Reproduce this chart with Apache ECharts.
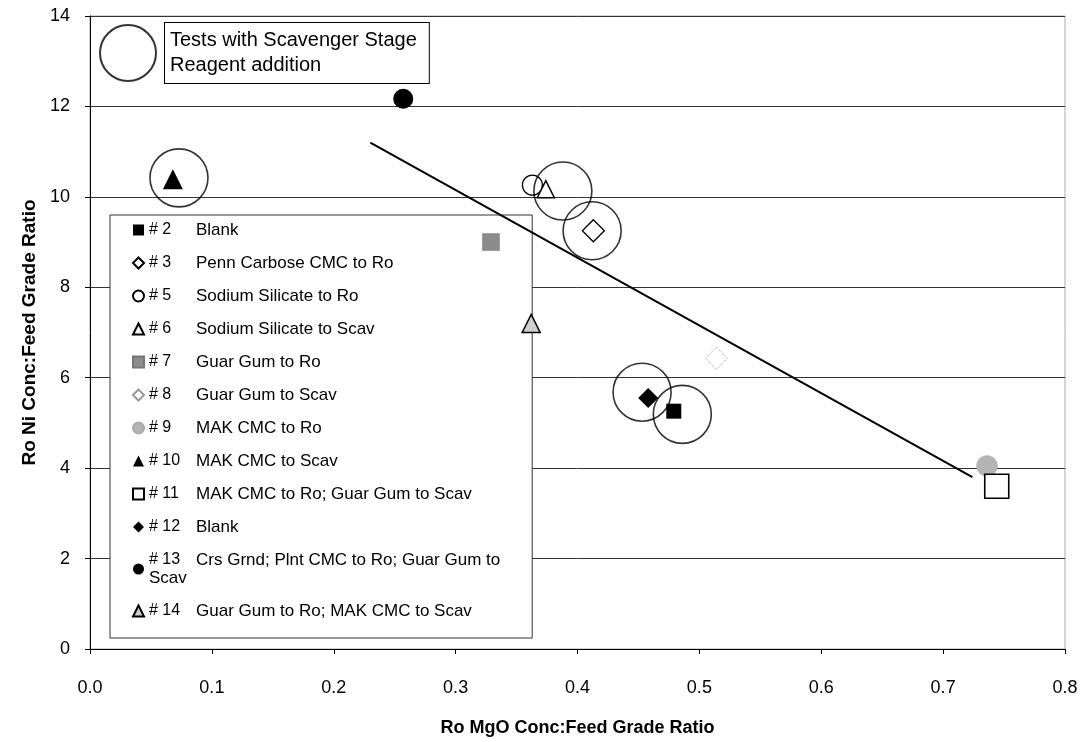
<!DOCTYPE html>
<html><head><meta charset="utf-8">
<script src="https://cdn.jsdelivr.net/npm/echarts@6/dist/echarts.min.js"></script>
<style>html,body{margin:0;padding:0;background:#fff}#c{width:1088px;height:742px}</style>
</head><body><div id="c"></div>
<script>
// ---- data ----
const testIds = ['# 2','# 3','# 5','# 6','# 7','# 8','# 9','# 10','# 11','# 12','# 13','# 14'];
const testLabels = ['Blank','Penn Carbose CMC to Ro','Sodium Silicate to Ro','Sodium Silicate to Scav','Guar Gum to Ro','Guar Gum to Scav','MAK CMC to Ro','MAK CMC to Scav','MAK CMC to Ro; Guar Gum to Scav','Blank','Crs Grnd; Plnt CMC to Ro; Guar Gum to Scav','Guar Gum to Ro; MAK CMC to Scav'];
const mgoRatio = [0.479,0.413,0.363,0.374,0.329,0.514,0.736,0.068,0.744,0.458,0.257,0.362];
const niRatio  = [5.26,9.25,10.26,10.17,9.00,6.43,4.05,10.39,3.60,5.55,12.17,7.20];
const scavMgo = [0.073,0.388,0.412,0.453,0.486];
const scavNi  = [10.42,10.13,9.25,5.68,5.19];
const trendMgo = [0.230,0.724];
const trendNi  = [11.20,3.80];
const scavLabel = 'Tests with Scavenger Stage Reagent addition';
const xTitle = 'Ro MgO Conc:Feed Grade Ratio';
const yTitle = 'Ro Ni Conc:Feed Grade Ratio';

// ---- styles ----
const markStyles = [
  {symbol:'rect', size:15, color:'#000', border:'#000', bw:0},
  {symbol:'diamond', size:22, color:'#fff', border:'#000', bw:1.3},
  {symbol:'circle', size:20, color:'#fff', border:'#000', bw:1.3},
  {symbol:'triangle', size:17, color:'#fff', border:'#000', bw:1.5},
  {symbol:'rect', size:17, color:'#8c8c8c', border:'#777', bw:0.5},
  {symbol:'diamond', size:22, color:'#fff', border:'#999', bw:1, type:'dotted'},
  {symbol:'circle', size:21, color:'#b4b4b4', border:'#aaa', bw:0.5},
  {symbol:'triangle', size:20, color:'#000', border:'#000', bw:0},
  {symbol:'rect', size:24, color:'#fff', border:'#000', bw:1.6},
  {symbol:'diamond', size:20, color:'#000', border:'#000', bw:0},
  {symbol:'circle', size:20, color:'#000', border:'#000', bw:0},
  {symbol:'triangle', size:18, color:'#cfcfcf', border:'#000', bw:1.5}
];
const seriesNames = testIds.map((id,i)=>id+'|'+testLabels[i]);
const FONT = '"Liberation Sans", Arial, sans-serif';

const series = [];
series.push({
  type:'line', name:'trend', data: trendMgo.map((x,i)=>[x,trendNi[i]]),
  showSymbol:false, symbol:'none', lineStyle:{color:'#000',width:2}, z:2, silent:true
});
seriesNames.forEach((n,i)=>{
  const s = markStyles[i];
  series.push({
    type:'scatter', name:n, data:[[mgoRatio[i], niRatio[i]]],
    symbol:s.symbol, symbolSize:s.size, z:3,
    itemStyle:{color:s.color, borderColor:s.border, borderWidth:s.bw, borderType:s.type||'solid', opacity:1}
  });
});
series.push({
  type:'scatter', name:scavLabel, data: scavMgo.map((x,i)=>[x,scavNi[i]]),
  symbol:'circle', symbolSize:58, z:4,
  itemStyle:{color:'rgba(0,0,0,0)', borderColor:'#000', borderWidth:1.6}
});

const chart = echarts.init(document.getElementById('c'));
chart.setOption({
  backgroundColor:'#fff',
  animation:false,
  textStyle:{fontFamily:FONT},
  grid:{left:90, right:23, top:16, bottom:90, show:true, borderColor:'#aaa', borderWidth:1},
  xAxis:{
    type:'value', min:0, max:0.8, interval:0.1, z:0,
    name:xTitle, nameLocation:'middle', nameGap:70,
    nameTextStyle:{fontSize:18, fontWeight:'bold', color:'#000', fontFamily:FONT},
    axisLine:{show:true, lineStyle:{color:'#000', width:1}},
    axisTick:{show:true, length:5, lineStyle:{color:'#000'}},
    axisLabel:{margin:30, fontSize:18, color:'#000', fontFamily:FONT, formatter:v=>v.toFixed(1)},
    splitLine:{show:false}
  },
  yAxis:{
    type:'value', min:0, max:14, interval:2, z:0,
    name:yTitle, nameLocation:'middle', nameGap:50, nameRotate:90,
    nameTextStyle:{fontSize:19, fontWeight:'bold', color:'#000', fontFamily:FONT},
    axisLine:{show:true, lineStyle:{color:'#000', width:1}},
    axisTick:{show:true, length:5, lineStyle:{color:'#000'}},
    axisLabel:{margin:20, fontSize:18, color:'#000', fontFamily:FONT},
    splitLine:{show:true, lineStyle:{color:'#333', width:1}}
  },
  legend:[{
    data: seriesNames, orient:'vertical', left:110, top:215, z:1,
    selectedMode:false, itemWidth:11, itemHeight:11, itemGap:15,
    padding:[6,32,18,22], borderColor:'#333', borderWidth:1, backgroundColor:'#fff',
    formatter: name=>{
      const i = seriesNames.indexOf(name);
      const lab = testLabels[i];
      if (i===10) return '{a|'+testIds[i]+'}{b|Crs Grnd; Plnt CMC to Ro; Guar Gum to}\n{b|Scav}';
      return '{a|'+testIds[i]+'}{b|'+lab+'}';
    },
    textStyle:{fontSize:17, color:'#000', fontFamily:FONT, lineHeight:18,
      rich:{a:{width:47, fontSize:16, lineHeight:18, fontFamily:FONT, color:'#000'},
            b:{fontSize:17, lineHeight:18, fontFamily:FONT, color:'#000'}}}
  },{
    data:[scavLabel], orient:'vertical', left:99, top:22, z:1, selectedMode:false,
    itemWidth:64, itemHeight:56, padding:0,
    formatter: ()=>'Tests with Scavenger Stage\nReagent addition',
    textStyle:{fontSize:20, color:'#000', fontFamily:FONT, lineHeight:25,
      borderColor:'#000', borderWidth:1, padding:[5,12,5,5], backgroundColor:'#fff'}
  }],
  series: series
});
</script></body></html>
